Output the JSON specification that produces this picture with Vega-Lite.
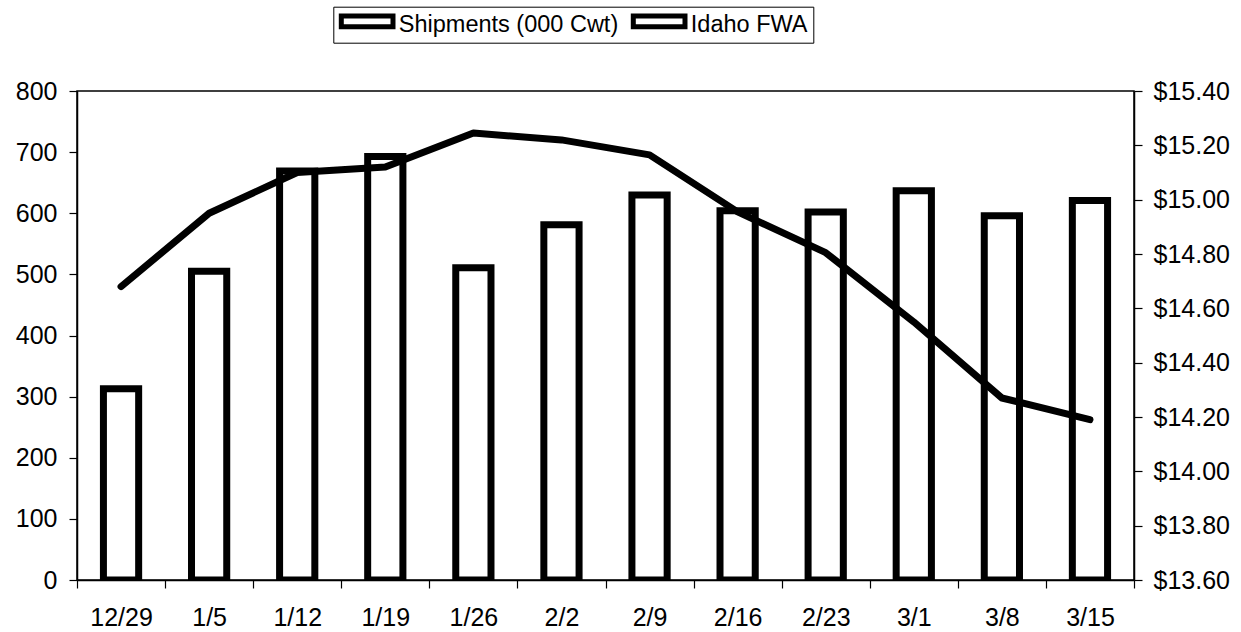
{
  "$schema": "https://vega.github.io/schema/vega-lite/v6.json",
  "width": 1057,
  "height": 489,
  "autosize": {"type": "none"},
  "padding": {"left": 77, "top": 91, "right": 107, "bottom": 52},
  "background": "white",
  "config": {
    "font": "Liberation Sans",
    "view": {"stroke": "black", "strokeWidth": 1.5},
    "axis": {
      "labelFont": "Liberation Sans",
      "labelFontSize": 25,
      "labelColor": "black",
      "domainColor": "black",
      "domainWidth": 1.5,
      "tickColor": "black",
      "tickWidth": 1.2,
      "tickSize": 8,
      "grid": false,
      "title": null
    }
  },
  "data": {
    "values": [
      {"week": "12/29", "shipments": 313, "price": 14.68},
      {"week": "1/5", "shipments": 505, "price": 14.95},
      {"week": "1/12", "shipments": 669, "price": 15.10},
      {"week": "1/19", "shipments": 693, "price": 15.12},
      {"week": "1/26", "shipments": 511, "price": 15.245},
      {"week": "2/2", "shipments": 581, "price": 15.22},
      {"week": "2/9", "shipments": 630, "price": 15.165},
      {"week": "2/16", "shipments": 604, "price": 14.955},
      {"week": "2/23", "shipments": 602, "price": 14.805},
      {"week": "3/1", "shipments": 637, "price": 14.55},
      {"week": "3/8", "shipments": 596, "price": 14.27},
      {"week": "3/15", "shipments": 621, "price": 14.19}
    ]
  },
  "encoding": {
    "x": {
      "field": "week",
      "type": "nominal",
      "sort": null,
      "scale": {"paddingInner": 0, "paddingOuter": 0},
      "axis": {"labelAngle": 0, "tickBand": "extent", "labelPadding": 17}
    }
  },
  "layer": [
    {
      "mark": {"type": "bar", "fill": "white", "strokeWidth": 7, "width": {"band": 0.4}, "clip": true},
      "encoding": {
        "y": {
          "field": "shipments",
          "type": "quantitative",
          "scale": {"domain": [0, 800], "nice": false},
          "axis": {"values": [0, 100, 200, 300, 400, 500, 600, 700, 800], "labelPadding": 12}
        },
        "stroke": {
          "datum": "Shipments (000 Cwt)",
          "type": "nominal",
          "scale": {"domain": ["Shipments (000 Cwt)", "Idaho FWA"], "range": ["black", "black"]},
          "legend": {
            "title": null,
            "orient": "none",
            "direction": "horizontal",
            "legendX": 256.3,
            "legendY": -84.3,
            "padding": 5.5,
            "strokeColor": "black",
            "fillColor": "white",
            "labelFont": "Liberation Sans",
            "labelFontSize": 23.5,
            "labelColor": "black",
            "labelLimit": 0,
            "labelOffset": 35,
            "columnPadding": 4,
            "symbolSize": 400,
            "symbolStrokeWidth": 5,
            "symbolType": "M-1,-0.905H4.17V0.165H-1Z"
          }
        }
      }
    },
    {
      "mark": {"type": "line", "strokeWidth": 7, "strokeCap": "round", "strokeJoin": "round"},
      "encoding": {
        "y": {
          "field": "price",
          "type": "quantitative",
          "scale": {"domain": [13.6, 15.4], "nice": false, "zero": false},
          "axis": {"orient": "right", "values": [13.6, 13.8, 14.0, 14.2, 14.4, 14.6, 14.8, 15.0, 15.2, 15.4], "format": "$.2f", "labelPadding": 11}
        },
        "stroke": {"datum": "Idaho FWA", "type": "nominal"}
      }
    }
  ],
  "resolve": {"scale": {"y": "independent"}}
}
